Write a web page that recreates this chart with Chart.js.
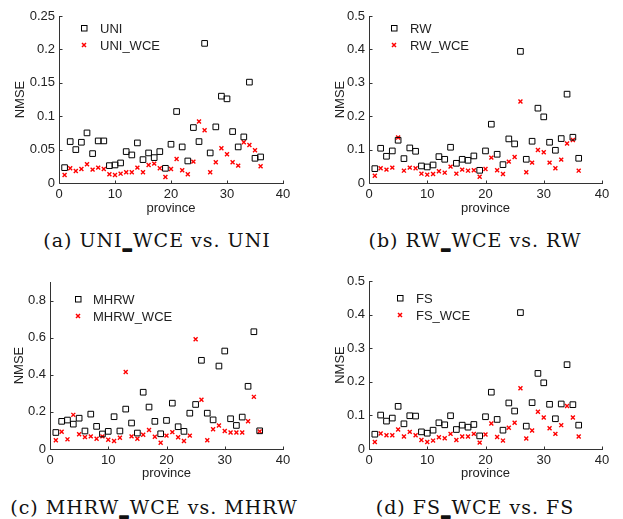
<!DOCTYPE html>
<html>
<head>
<meta charset="utf-8">
<title>NMSE per province</title>
<script src="https://cdn.jsdelivr.net/npm/chart.js@4.4.1/dist/chart.umd.min.js"></script>
<style>
  html, body { margin: 0; padding: 0; background: #fff; }
  body { width: 623px; height: 519px; position: relative; overflow: hidden; }
  canvas { position: absolute; }
  .cap {
    position: absolute;
    font-family: "DejaVu Serif", serif;
    font-size: 19px;
    letter-spacing: 1px;
    line-height: 24px;
    color: #111;
    text-align: center;
    white-space: nowrap;
  }
  .cap b { font-weight: bold; text-shadow: 0 -1px 0 #111, 0 1px 0 #111; }
</style>
</head>
<body>
<canvas id="pa" width="310" height="225" style="left:0;top:0"></canvas>
<canvas id="pb" width="313" height="225" style="left:310px;top:0"></canvas>
<canvas id="pc" width="310" height="225" style="left:0;top:265px"></canvas>
<canvas id="pd" width="313" height="225" style="left:310px;top:265px"></canvas>

<div class="cap" style="left:0;width:314px;top:228px">(a) UNI<b>_</b>WCE vs. UNI</div>
<div class="cap" style="left:318px;width:314px;top:228px">(b) RW<b>_</b>WCE vs. RW</div>
<div class="cap" style="left:0;width:308px;top:495px">(c) MHRW<b>_</b>WCE vs. MHRW</div>
<div class="cap" style="left:318px;width:314px;top:495px">(d) FS<b>_</b>WCE vs. FS</div>

<script>
// provinces 1..36
const provinces = [1, 2, 3, 4, 5, 6, 7, 8, 9, 10, 11, 12, 13, 14, 15, 16, 17, 18,
                   19, 20, 21, 22, 23, 24, 25, 26, 27, 28, 29, 30, 31, 32, 33, 34, 35, 36];

const uni = [0.023, 0.062, 0.050, 0.061, 0.075, 0.044, 0.063, 0.063, 0.026, 0.027, 0.030, 0.047,
             0.042, 0.060, 0.035, 0.045, 0.038, 0.047, 0.022, 0.058, 0.107, 0.054, 0.033, 0.083,
             0.062, 0.209, 0.045, 0.084, 0.130, 0.126, 0.077, 0.054, 0.069, 0.151, 0.037, 0.039];
const uniWce = [0.012, 0.022, 0.018, 0.021, 0.028, 0.020, 0.023, 0.021, 0.013, 0.012, 0.014, 0.016,
                0.016, 0.023, 0.016, 0.027, 0.029, 0.022, 0.009, 0.021, 0.036, 0.019, 0.013, 0.032,
                0.092, 0.079, 0.016, 0.031, 0.052, 0.043, 0.031, 0.026, 0.061, 0.057, 0.049, 0.025];

const rw = [0.043, 0.104, 0.080, 0.096, 0.128, 0.073, 0.105, 0.095, 0.051, 0.048, 0.054, 0.079,
            0.071, 0.107, 0.059, 0.071, 0.068, 0.081, 0.038, 0.096, 0.176, 0.086, 0.055, 0.132,
            0.117, 0.394, 0.071, 0.125, 0.224, 0.198, 0.122, 0.098, 0.133, 0.266, 0.137, 0.074];
const rwWce = [0.022, 0.044, 0.040, 0.046, 0.136, 0.037, 0.046, 0.044, 0.028, 0.025, 0.027, 0.035,
               0.031, 0.049, 0.028, 0.040, 0.037, 0.038, 0.019, 0.042, 0.076, 0.038, 0.027, 0.064,
               0.078, 0.244, 0.032, 0.061, 0.099, 0.092, 0.061, 0.044, 0.070, 0.118, 0.129, 0.037];

const mhrw = [0.089, 0.149, 0.156, 0.134, 0.166, 0.097, 0.188, 0.122, 0.081, 0.095, 0.174, 0.097,
              0.215, 0.140, 0.086, 0.306, 0.226, 0.149, 0.082, 0.154, 0.247, 0.120, 0.095, 0.193,
              0.240, 0.478, 0.193, 0.157, 0.447, 0.528, 0.163, 0.127, 0.172, 0.338, 0.632, 0.098];
const mhrwWce = [0.047, 0.093, 0.052, 0.184, 0.079, 0.064, 0.068, 0.055, 0.068, 0.050, 0.043, 0.061,
                 0.415, 0.068, 0.055, 0.077, 0.102, 0.066, 0.034, 0.072, 0.091, 0.063, 0.043, 0.072,
                 0.592, 0.265, 0.047, 0.106, 0.127, 0.097, 0.089, 0.089, 0.089, 0.150, 0.281, 0.095];

const fs = [0.044, 0.101, 0.083, 0.092, 0.127, 0.075, 0.099, 0.098, 0.051, 0.047, 0.056, 0.078,
            0.072, 0.099, 0.058, 0.071, 0.065, 0.073, 0.039, 0.096, 0.169, 0.088, 0.056, 0.137,
            0.113, 0.406, 0.068, 0.138, 0.225, 0.197, 0.133, 0.090, 0.134, 0.251, 0.132, 0.071];
const fsWce = [0.021, 0.046, 0.041, 0.041, 0.058, 0.037, 0.051, 0.041, 0.027, 0.021, 0.025, 0.035,
               0.032, 0.045, 0.027, 0.037, 0.037, 0.045, 0.019, 0.043, 0.076, 0.036, 0.025, 0.063,
               0.078, 0.181, 0.031, 0.055, 0.111, 0.094, 0.062, 0.045, 0.071, 0.128, 0.094, 0.037];

// tick labels
const xTicks = [0, 10, 20, 30, 40];
const yTicksA = [0, 0.05, 0.1, 0.15, 0.2, 0.25];
const yTicksB = [0, 0.1, 0.2, 0.3, 0.4, 0.5];
const yTicksC = [0, 0.2, 0.4, 0.6, 0.8];
const yTicksD = [0, 0.1, 0.2, 0.3, 0.4, 0.5];

const sansFont = '"Liberation Sans", Arial, Helvetica, sans-serif';
const textColor = '#222';
const axisColor = '#333';
const tickLen = 3;

// canvas-relative plot boxes / legend spots for each panel
const panels = [
  {id: 'pa', names: ['UNI', 'UNI_WCE'], series: [uni, uniWce], yMax: 0.25, yTicks: yTicksA,
   area: {l: 59, t: 16, r: 283, b: 183}, yTitleX: 20, leg: {mx: 84, tx: 100, y1: 28, y2: 45}},
  {id: 'pb', names: ['RW', 'RW_WCE'], series: [rw, rwWce], yMax: 0.5, yTicks: yTicksB,
   area: {l: 59, t: 16, r: 292, b: 183}, yTitleX: 30, leg: {mx: 84, tx: 100, y1: 28, y2: 45}},
  {id: 'pc', names: ['MHRW', 'MHRW_WCE'], series: [mhrw, mhrwWce], yMax: 0.9, yTicks: yTicksC,
   area: {l: 50, t: 17, r: 283, b: 184}, yTitleX: 19, leg: {mx: 78, tx: 93, y1: 34, y2: 51}},
  {id: 'pd', names: ['FS', 'FS_WCE'], series: [fs, fsWce], yMax: 0.5, yTicks: yTicksD,
   area: {l: 59, t: 16, r: 292, b: 184}, yTitleX: 30, leg: {mx: 90, tx: 106, y1: 33, y2: 50}}
];

// matlab style axes: left + bottom line, ticks pointing inward
const matAxes = {
  id: 'matAxes',
  beforeDatasetsDraw(chart) {
    const {ctx, chartArea: a, scales: {x, y}} = chart;
    const x0 = Math.round(a.left) + 0.5;
    const y0 = Math.round(a.bottom) + 0.5;
    ctx.save();
    ctx.strokeStyle = axisColor;
    ctx.lineWidth = 1;
    ctx.beginPath();
    ctx.moveTo(x0, Math.round(a.top));
    ctx.lineTo(x0, y0);
    ctx.lineTo(Math.round(a.right) + 1, y0);
    x.ticks.forEach(t => {
      const px = Math.round(x.getPixelForValue(t.value)) + 0.5;
      ctx.moveTo(px, y0);
      ctx.lineTo(px, y0 - tickLen);
    });
    y.ticks.forEach(t => {
      const py = Math.round(y.getPixelForValue(t.value)) + 0.5;
      ctx.moveTo(x0, py);
      ctx.lineTo(x0 + tickLen, py);
    });
    ctx.stroke();
    ctx.restore();
  },
  afterDraw(chart, args, opts) {
    const leg = opts.leg;
    if (!leg) return;
    const ctx = chart.ctx;
    const ds = chart.data.datasets;
    ctx.save();
    // square marker
    ctx.strokeStyle = '#000';
    ctx.lineWidth = 1;
    ctx.strokeRect(leg.mx - 2.5, leg.y1 - 2.5, 5.5, 5.5);
    // x marker
    ctx.strokeStyle = '#ff0000';
    ctx.lineWidth = 1.5;
    ctx.beginPath();
    ctx.moveTo(leg.mx - 2, leg.y2 - 2); ctx.lineTo(leg.mx + 2, leg.y2 + 2);
    ctx.moveTo(leg.mx - 2, leg.y2 + 2); ctx.lineTo(leg.mx + 2, leg.y2 - 2);
    ctx.stroke();
    ctx.fillStyle = textColor;
    ctx.font = '13px ' + sansFont;
    ctx.textAlign = 'left';
    ctx.textBaseline = 'middle';
    ctx.fillText(ds[0].label, leg.tx, leg.y1 + 1);
    ctx.fillText(ds[1].label, leg.tx, leg.y2 + 1);
    ctx.restore();
  }
};

function fmt(v) {
  return String(Math.round(v * 100) / 100);
}

function makeChart(p) {
  const cv = document.getElementById(p.id);
  const W = cv.width, H = cv.height;
  const pts = arr => provinces.map((x, i) => ({x: x, y: arr[i]}));
  new Chart(cv, {
    type: 'scatter',
    data: {
      datasets: [{
        label: p.names[0],
        data: pts(p.series[0]),
        pointStyle: 'rect',
        pointRadius: 4,
        pointHoverRadius: 4,
        pointBorderWidth: 1,
        borderColor: '#000',
        backgroundColor: 'rgba(0,0,0,0)',
        clip: false
      }, {
        label: p.names[1],
        data: pts(p.series[1]),
        pointStyle: 'crossRot',
        pointRadius: 2.8,
        pointHoverRadius: 2.8,
        pointBorderWidth: 1.4,
        borderColor: '#ff0000',
        backgroundColor: '#ff0000',
        clip: false
      }]
    },
    options: {
      responsive: false,
      animation: false,
      events: [],
      layout: {padding: {left: 0, top: p.area.t, right: W - p.area.r, bottom: 0}},
      plugins: {
        legend: {display: false},
        tooltip: {enabled: false},
        matAxes: {leg: p.leg}
      },
      scales: {
        x: {
          type: 'linear',
          min: 0,
          max: 40,
          afterBuildTicks: s => { s.ticks = xTicks.map(v => ({value: v})); },
          afterFit: s => { s.height = H - p.area.b; },
          grid: {display: false, drawTicks: false},
          border: {display: false},
          ticks: {padding: 4, maxRotation: 0, color: textColor,
                  font: {family: sansFont, size: 13}, callback: v => fmt(v)},
          title: {display: true, text: 'province', color: textColor,
                  font: {family: sansFont, size: 13}, padding: {top: 9, bottom: 9}}
        },
        y: {
          type: 'linear',
          min: 0,
          max: p.yMax,
          afterBuildTicks: s => { s.ticks = p.yTicks.map(v => ({value: v})); },
          afterFit: s => { s.width = p.area.l; },
          grid: {display: false, drawTicks: false},
          border: {display: false},
          ticks: {padding: 4, color: textColor,
                  font: {family: sansFont, size: 13}, callback: v => fmt(v)},
          title: {display: true, text: 'NMSE', color: textColor,
                  font: {family: sansFont, size: 13},
                  padding: {top: p.yTitleX - 7.8, bottom: p.yTitleX - 7.8}}
        }
      }
    },
    plugins: [matAxes]
  });
}

panels.forEach(makeChart);
</script>
</body>
</html>
